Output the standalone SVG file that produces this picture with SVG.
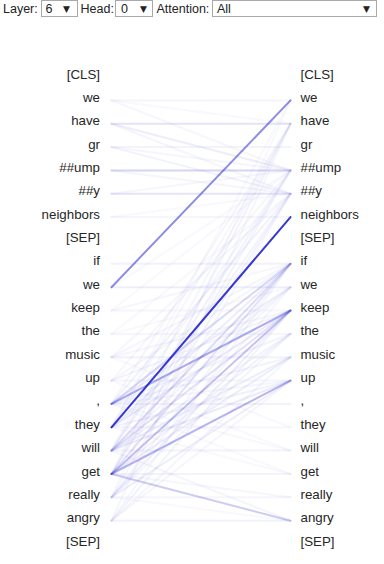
<svg xmlns="http://www.w3.org/2000/svg" width="384" height="564" viewBox="0 0 384 564">
<style>
.lbl{font-family:"Liberation Sans",Arial,sans-serif;font-size:12.5px;fill:#222}
.sel{fill:#fff;stroke:#a9a9a9;stroke-width:1}
.tri{font-family:"DejaVu Sans",sans-serif;font-size:9px;fill:#222}
.tok{font-family:"Liberation Sans",Arial,sans-serif;font-size:13.3px;fill:#262626}
.l{text-anchor:end}
.c line{stroke:#1c1ccc;stroke-width:2;stroke-linecap:round}
.f line{stroke-opacity:0.7}
</style>
<rect width="384" height="564" fill="#fff"/>
<g id="controls">
<text class="lbl" x="3" y="12.5">Layer:</text>
<rect class="sel" x="41.5" y="0.5" width="36" height="16"/>
<text class="lbl" x="45.5" y="12.5">6</text>
<text class="tri" x="63" y="12">▼</text>
<text class="lbl" x="80.5" y="12.5">Head:</text>
<rect class="sel" x="115.5" y="0.5" width="37" height="16"/>
<text class="lbl" x="121" y="12.5">0</text>
<text class="tri" x="140" y="12">▼</text>
<text class="lbl" x="156.5" y="12.5">Attention:</text>
<rect class="sel" x="212.5" y="0.5" width="164" height="16"/>
<text class="lbl" x="217" y="12.5">All</text>
<text class="tri" x="363" y="12">▼</text>
</g>
<g class="c" id="connectors">
<g opacity="0.7">
<line x1="111.5" y1="100.4" x2="290.5" y2="100.4" stroke-opacity="0.06"/>
<line x1="111.5" y1="123.7" x2="290.5" y2="123.7" stroke-opacity="0.17"/>
<line x1="111.5" y1="147.1" x2="290.5" y2="147.1" stroke-opacity="0.07"/>
<line x1="111.5" y1="170.4" x2="290.5" y2="170.4" stroke-opacity="0.26"/>
<line x1="111.5" y1="193.8" x2="290.5" y2="193.8" stroke-opacity="0.17"/>
<line x1="111.5" y1="217.1" x2="290.5" y2="217.1" stroke-opacity="0.06"/>
<line x1="111.5" y1="263.8" x2="290.5" y2="263.8" stroke-opacity="0.08"/>
<line x1="111.5" y1="287.2" x2="290.5" y2="287.2" stroke-opacity="0.1"/>
<line x1="111.5" y1="310.5" x2="290.5" y2="310.5" stroke-opacity="0.05"/>
<line x1="111.5" y1="333.9" x2="290.5" y2="333.9" stroke-opacity="0.05"/>
<line x1="111.5" y1="357.2" x2="290.5" y2="357.2" stroke-opacity="0.08"/>
<line x1="111.5" y1="380.6" x2="290.5" y2="380.6" stroke-opacity="0.05"/>
<line x1="111.5" y1="403.9" x2="290.5" y2="403.9" stroke-opacity="0.08"/>
<line x1="111.5" y1="427.3" x2="290.5" y2="427.3" stroke-opacity="0.05"/>
<line x1="111.5" y1="450.6" x2="290.5" y2="450.6" stroke-opacity="0.07"/>
<line x1="111.5" y1="474.0" x2="290.5" y2="474.0" stroke-opacity="0.07"/>
<line x1="111.5" y1="497.3" x2="290.5" y2="497.3" stroke-opacity="0.05"/>
<line x1="111.5" y1="520.7" x2="290.5" y2="520.7" stroke-opacity="0.08"/>
<line x1="111.5" y1="123.7" x2="290.5" y2="170.4" stroke-opacity="0.1"/>
<line x1="111.5" y1="147.1" x2="290.5" y2="193.8" stroke-opacity="0.08"/>
<line x1="111.5" y1="100.4" x2="290.5" y2="170.4" stroke-opacity="0.05"/>
<line x1="111.5" y1="123.7" x2="290.5" y2="193.8" stroke-opacity="0.06"/>
<line x1="111.5" y1="170.4" x2="290.5" y2="193.8" stroke-opacity="0.06"/>
<line x1="111.5" y1="193.8" x2="290.5" y2="170.4" stroke-opacity="0.05"/>
<line x1="111.5" y1="147.1" x2="290.5" y2="170.4" stroke-opacity="0.06"/>
<line x1="111.5" y1="217.1" x2="290.5" y2="193.8" stroke-opacity="0.04"/>
<line x1="111.5" y1="100.4" x2="290.5" y2="123.7" stroke-opacity="0.04"/>
<line x1="111.5" y1="450.6" x2="290.5" y2="170.4" stroke-opacity="0.08"/>
<line x1="111.5" y1="474.0" x2="290.5" y2="170.4" stroke-opacity="0.07"/>
<line x1="111.5" y1="427.3" x2="290.5" y2="170.4" stroke-opacity="0.06"/>
<line x1="111.5" y1="403.9" x2="290.5" y2="193.8" stroke-opacity="0.08"/>
<line x1="111.5" y1="450.6" x2="290.5" y2="193.8" stroke-opacity="0.07"/>
<line x1="111.5" y1="497.3" x2="290.5" y2="193.8" stroke-opacity="0.05"/>
<line x1="111.5" y1="474.0" x2="290.5" y2="123.7" stroke-opacity="0.07"/>
<line x1="111.5" y1="450.6" x2="290.5" y2="123.7" stroke-opacity="0.05"/>
<line x1="111.5" y1="520.7" x2="290.5" y2="123.7" stroke-opacity="0.05"/>
<line x1="111.5" y1="474.0" x2="290.5" y2="193.8" stroke-opacity="0.08"/>
<line x1="111.5" y1="427.3" x2="290.5" y2="123.7" stroke-opacity="0.05"/>
<line x1="111.5" y1="403.9" x2="290.5" y2="123.7" stroke-opacity="0.06"/>
<line x1="111.5" y1="380.6" x2="290.5" y2="170.4" stroke-opacity="0.05"/>
<line x1="111.5" y1="357.2" x2="290.5" y2="193.8" stroke-opacity="0.05"/>
<line x1="111.5" y1="427.3" x2="290.5" y2="100.4" stroke-opacity="0.04"/>
<line x1="111.5" y1="497.3" x2="290.5" y2="100.4" stroke-opacity="0.04"/>
<line x1="111.5" y1="357.2" x2="290.5" y2="263.8" stroke-opacity="0.06"/>
<line x1="111.5" y1="380.6" x2="290.5" y2="263.8" stroke-opacity="0.06"/>
<line x1="111.5" y1="427.3" x2="290.5" y2="263.8" stroke-opacity="0.1"/>
<line x1="111.5" y1="497.3" x2="290.5" y2="263.8" stroke-opacity="0.06"/>
<line x1="111.5" y1="520.7" x2="290.5" y2="263.8" stroke-opacity="0.05"/>
<line x1="111.5" y1="427.3" x2="290.5" y2="287.2" stroke-opacity="0.07"/>
<line x1="111.5" y1="450.6" x2="290.5" y2="287.2" stroke-opacity="0.06"/>
<line x1="111.5" y1="497.3" x2="290.5" y2="287.2" stroke-opacity="0.05"/>
<line x1="111.5" y1="403.9" x2="290.5" y2="287.2" stroke-opacity="0.1"/>
<line x1="111.5" y1="357.2" x2="290.5" y2="310.5" stroke-opacity="0.06"/>
<line x1="111.5" y1="380.6" x2="290.5" y2="310.5" stroke-opacity="0.07"/>
<line x1="111.5" y1="427.3" x2="290.5" y2="310.5" stroke-opacity="0.12"/>
<line x1="111.5" y1="497.3" x2="290.5" y2="310.5" stroke-opacity="0.1"/>
<line x1="111.5" y1="520.7" x2="290.5" y2="310.5" stroke-opacity="0.07"/>
<line x1="111.5" y1="403.9" x2="290.5" y2="333.9" stroke-opacity="0.07"/>
<line x1="111.5" y1="450.6" x2="290.5" y2="333.9" stroke-opacity="0.08"/>
<line x1="111.5" y1="474.0" x2="290.5" y2="333.9" stroke-opacity="0.08"/>
<line x1="111.5" y1="497.3" x2="290.5" y2="333.9" stroke-opacity="0.06"/>
<line x1="111.5" y1="403.9" x2="290.5" y2="357.2" stroke-opacity="0.07"/>
<line x1="111.5" y1="450.6" x2="290.5" y2="357.2" stroke-opacity="0.1"/>
<line x1="111.5" y1="474.0" x2="290.5" y2="357.2" stroke-opacity="0.1"/>
<line x1="111.5" y1="520.7" x2="290.5" y2="357.2" stroke-opacity="0.06"/>
<line x1="111.5" y1="403.9" x2="290.5" y2="380.6" stroke-opacity="0.06"/>
<line x1="111.5" y1="427.3" x2="290.5" y2="380.6" stroke-opacity="0.08"/>
<line x1="111.5" y1="450.6" x2="290.5" y2="380.6" stroke-opacity="0.12"/>
<line x1="111.5" y1="497.3" x2="290.5" y2="380.6" stroke-opacity="0.1"/>
<line x1="111.5" y1="520.7" x2="290.5" y2="380.6" stroke-opacity="0.06"/>
<line x1="111.5" y1="310.5" x2="290.5" y2="170.4" stroke-opacity="0.04"/>
<line x1="111.5" y1="333.9" x2="290.5" y2="193.8" stroke-opacity="0.04"/>
<line x1="111.5" y1="310.5" x2="290.5" y2="263.8" stroke-opacity="0.05"/>
<line x1="111.5" y1="333.9" x2="290.5" y2="287.2" stroke-opacity="0.04"/>
<line x1="111.5" y1="287.2" x2="290.5" y2="170.4" stroke-opacity="0.04"/>
<line x1="111.5" y1="450.6" x2="290.5" y2="520.7" stroke-opacity="0.06"/>
<line x1="111.5" y1="497.3" x2="290.5" y2="520.7" stroke-opacity="0.04"/>
<line x1="111.5" y1="427.3" x2="290.5" y2="474.0" stroke-opacity="0.04"/>
<line x1="111.5" y1="403.9" x2="290.5" y2="474.0" stroke-opacity="0.04"/>
<line x1="111.5" y1="474.0" x2="290.5" y2="497.3" stroke-opacity="0.05"/>
<line x1="111.5" y1="380.6" x2="290.5" y2="450.6" stroke-opacity="0.04"/>
<line x1="111.5" y1="403.9" x2="290.5" y2="450.6" stroke-opacity="0.04"/>
<line x1="111.5" y1="357.2" x2="290.5" y2="427.3" stroke-opacity="0.04"/>
</g>
<line x1="111.5" y1="403.9" x2="290.5" y2="263.8" stroke-opacity="0.17"/>
<line x1="111.5" y1="450.6" x2="290.5" y2="263.8" stroke-opacity="0.15"/>
<line x1="111.5" y1="474.0" x2="290.5" y2="263.8" stroke-opacity="0.13"/>
<line x1="111.5" y1="450.6" x2="290.5" y2="310.5" stroke-opacity="0.13"/>
<line x1="111.5" y1="474.0" x2="290.5" y2="520.7" stroke-opacity="0.22"/>
<line x1="111.5" y1="474.0" x2="290.5" y2="310.5" stroke-opacity="0.27"/>
<line x1="111.5" y1="474.0" x2="290.5" y2="380.6" stroke-opacity="0.32"/>
<line x1="111.5" y1="403.9" x2="290.5" y2="310.5" stroke-opacity="0.36"/>
<line x1="111.5" y1="287.2" x2="290.5" y2="100.4" stroke-opacity="0.5"/>
<line x1="111.5" y1="427.3" x2="290.5" y2="217.1" stroke-opacity="0.88"/>
</g>
<g id="left-tokens" class="tok l">
<g id="L0"><text x="100" y="78.5">[CLS]</text></g>
<g id="L1"><text x="100" y="101.9">we</text></g>
<g id="L2"><text x="100" y="125.2">have</text></g>
<g id="L3"><text x="100" y="148.6">gr</text></g>
<g id="L4"><text x="100" y="171.9">##ump</text></g>
<g id="L5"><text x="100" y="195.3">##y</text></g>
<g id="L6"><text x="100" y="218.6">neighbors</text></g>
<g id="L7"><text x="100" y="242">[SEP]</text></g>
<g id="L8"><text x="100" y="265.3">if</text></g>
<g id="L9"><text x="100" y="288.7">we</text></g>
<g id="L10"><text x="100" y="312">keep</text></g>
<g id="L11"><text x="100" y="335.4">the</text></g>
<g id="L12"><text x="100" y="358.7">music</text></g>
<g id="L13"><text x="100" y="382.1">up</text></g>
<g id="L14"><text x="100" y="405.4">,</text></g>
<g id="L15"><text x="100" y="428.8">they</text></g>
<g id="L16"><text x="100" y="452.1">will</text></g>
<g id="L17"><text x="100" y="475.5">get</text></g>
<g id="L18"><text x="100" y="498.8">really</text></g>
<g id="L19"><text x="100" y="522.2">angry</text></g>
<g id="L20"><text x="100" y="545.5">[SEP]</text></g>
</g>
<g id="right-tokens" class="tok">
<g id="R0"><text x="300.5" y="78.5">[CLS]</text></g>
<g id="R1"><text x="300.5" y="101.9">we</text></g>
<g id="R2"><text x="300.5" y="125.2">have</text></g>
<g id="R3"><text x="300.5" y="148.6">gr</text></g>
<g id="R4"><text x="300.5" y="171.9">##ump</text></g>
<g id="R5"><text x="300.5" y="195.3">##y</text></g>
<g id="R6"><text x="300.5" y="218.6">neighbors</text></g>
<g id="R7"><text x="300.5" y="242">[SEP]</text></g>
<g id="R8"><text x="300.5" y="265.3">if</text></g>
<g id="R9"><text x="300.5" y="288.7">we</text></g>
<g id="R10"><text x="300.5" y="312">keep</text></g>
<g id="R11"><text x="300.5" y="335.4">the</text></g>
<g id="R12"><text x="300.5" y="358.7">music</text></g>
<g id="R13"><text x="300.5" y="382.1">up</text></g>
<g id="R14"><text x="300.5" y="405.4">,</text></g>
<g id="R15"><text x="300.5" y="428.8">they</text></g>
<g id="R16"><text x="300.5" y="452.1">will</text></g>
<g id="R17"><text x="300.5" y="475.5">get</text></g>
<g id="R18"><text x="300.5" y="498.8">really</text></g>
<g id="R19"><text x="300.5" y="522.2">angry</text></g>
<g id="R20"><text x="300.5" y="545.5">[SEP]</text></g>
</g>
</svg>
